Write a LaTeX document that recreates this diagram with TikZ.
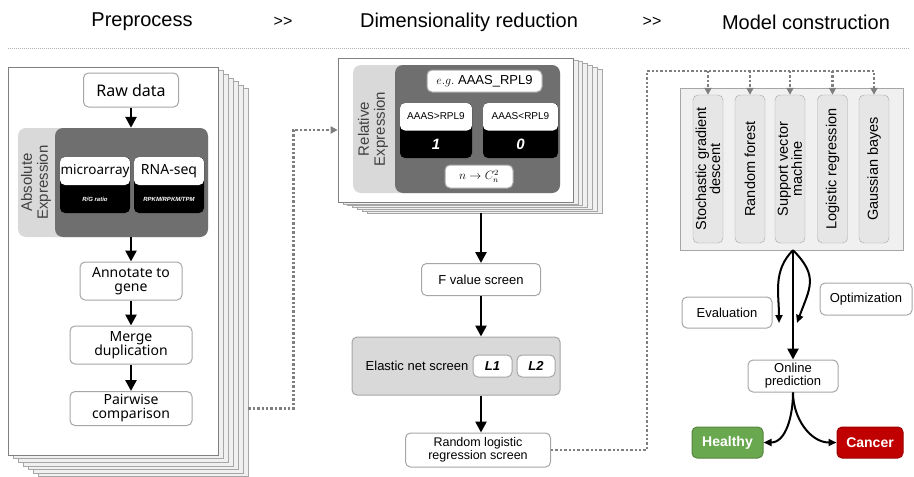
\documentclass[tikz,border=0pt]{standalone}
\usepackage{fontspec}
\setmainfont{Liberation Sans}
\newfontfamily\notofont{Noto Sans}
\usetikzlibrary{arrows.meta}
\definecolor{tabgray}{HTML}{D9D9D9}
\definecolor{blockgray}{HTML}{6F6F6F}
\definecolor{linegray}{HTML}{A6A6A6}
\definecolor{dotgray}{HTML}{7F7F7F}
\definecolor{panelgray}{HTML}{F0F0F0}
\definecolor{colgray}{HTML}{E6E6E6}
\definecolor{healthygreen}{HTML}{6AA84F}
\definecolor{cancerred}{HTML}{C00000}
\newcommand{\fs}[1]{\fontsize{#1}{#1}\selectfont}
\begin{document}
\begin{tikzpicture}[x=1pt,y=1pt,
  box/.style={draw=linegray,line width=1pt,fill=white,rounded corners=5pt,align=center,inner sep=0pt},
  tab/.style={fill=tabgray,rounded corners=8pt,inner sep=0pt},
  block/.style={fill=blockgray,rounded corners=8pt,inner sep=0pt},
  page/.style={draw=gray,line width=0.6pt,fill=white,inner sep=0pt},
  backpage/.style={draw=gray!70,line width=0.6pt,fill=gray!12,inner sep=0pt},
  duo/.style={fill=black,rounded corners=5pt,inner sep=0pt,
    path picture={\fill[white] (path picture bounding box.north west) rectangle (path picture bounding box.east);}},
  model/.style={draw=linegray,fill=colgray,rounded corners=5pt,rotate=90,minimum width=148pt,minimum height=30pt,
    align=center,font=\fontsize{14.5}{14}\selectfont,inner sep=0pt},
  arr/.style={-{Triangle[length=11pt,width=11pt]},line width=2.6pt},
  thin arr/.style={-{Triangle[length=8pt,width=7pt]},line width=2pt},
  flow/.style={-{Triangle[length=7pt,width=7pt]},draw=dotgray,line width=2.6pt,dash pattern=on 2.4pt off 2pt},
  ]
\useasboundingbox (0,0) rectangle (914,-477);

% headings
\node[font=\fs{20}] (pre) at (142,-22) {Preprocess};
\node[font=\fs{16}] (sep1) at (283,-22) {{>}{>}};
\node[font=\fs{20}] (dim) at (469,-22) {Dimensionality reduction};
\node[font=\fs{16}] (sep2) at (652,-22) {{>}{>}};
\node[font=\fs{20}] (mod) at (806,-22) {Model construction};
\draw[gray!60,line width=1pt,dash pattern=on 1pt off 1pt] (8,-48) -- (910,-48);

% preprocess stack
\foreach \i in {6,...,1}
  \node[backpage,minimum width=210pt,minimum height=388pt] (lp\i) at (113+5*\i,-261-3.6*\i) {};
\node[page,minimum width=210pt,minimum height=388pt] (lp0) at (113,-261) {};

\node[box,minimum width=95pt,minimum height=34pt,font=\notofont\fs{16}] (raw) at (131,-90) {Raw data};
\node[tab,minimum width=190pt,minimum height=109pt] (abstab) at (113,-182.5) {};
\node[block,minimum width=153pt,minimum height=109pt] (absblk) at (131.5,-182.5) {};
\node[rotate=90,align=center,text=black!75,font=\fs{15}] (abslbl) at (36,-182.5) {Absolute\\[1pt]Expression};
\node[duo,minimum width=70pt,minimum height=56pt] (micro) at (95,-185) {};
\node[font=\notofont\fs{13.5}] (microtxt) at ([yshift=-14pt]micro.north) {microarray};
\node[text=white,font=\fs{6}\bfseries\itshape] (microsub) at ([yshift=14pt]micro.south) {R/G ratio};
\node[duo,minimum width=70pt,minimum height=56pt] (rna) at (169,-185) {};
\node[font=\notofont\fs{14}] (rnatxt) at ([yshift=-14pt]rna.north) {RNA-seq};
\node[text=white,font=\fs{6}\bfseries\itshape] (rnasub) at ([yshift=14pt]rna.south) {RPKM/RPKM/TPM};

\node[box,minimum width=102pt,minimum height=38pt,font=\notofont\fs{14}] (annot) at (131,-281) {Annotate to\\gene};
\node[box,minimum width=122pt,minimum height=38pt,font=\notofont\fs{14}] (merge) at (131,-345) {Merge\\duplication};
\node[box,minimum width=122pt,minimum height=34pt,font=\notofont\fs{14}] (pairw) at (131,-408.5) {Pairwise\\comparison};

\draw[arr] (raw) -- (raw |- abstab.north);
\draw[arr] (annot |- abstab.south) -- (annot);
\draw[arr] (annot) -- (merge);
\draw[arr] (merge) -- (pairw);

% dimensionality reduction stack
\foreach \i in {6,...,1}
  \node[backpage,minimum width=235pt,minimum height=144pt] (mp\i) at (455.5+4.8*\i,-130-1.8*\i) {};
\node[page,minimum width=235pt,minimum height=144pt] (mp0) at (455.5,-130) {};

\node[tab,minimum width=207pt,minimum height=128pt] (reltab) at (456.5,-129) {};
\node[block,minimum width=165pt,minimum height=128pt] (relblk) at (477.5,-129) {};
\node[rotate=90,align=center,text=black!75,font=\fs{15}] (rellbl) at (373,-129) {Relative\\[1pt]Expression};
\node[box,minimum width=115pt,minimum height=22pt,font=\fs{13}] (eg) at (484.5,-81) {$e.g.$ AAAS\_RPL9};
\node[duo,minimum width=72pt,minimum height=55pt] (gt) at (436,-130.5) {};
\node[font=\fs{10}] (gttxt) at ([yshift=-13.5pt]gt.north) {AAAS>RPL9};
\node[text=white,font=\fs{15}\bfseries\itshape] (gtval) at ([yshift=14pt]gt.south) {1};
\node[duo,minimum width=75pt,minimum height=55pt] (lt) at (520.5,-130.5) {};
\node[font=\fs{10}] (lttxt) at ([yshift=-13.5pt]lt.north) {AAAS<RPL9};
\node[text=white,font=\fs{15}\bfseries\itshape] (ltval) at ([yshift=14pt]lt.south) {0};
\node[box,minimum width=68pt,minimum height=23pt,font=\fs{12}] (pairs) at (479,-176.5) {$n\to C_n^2$};

\node[box,minimum width=119pt,minimum height=32pt,font=\fs{13}] (fval) at (481,-279.5) {F value screen};
\node[box,fill=tabgray,minimum width=208pt,minimum height=58pt] (elastic) at (456,-366) {};
\node[font=\fs{13}] (eltxt) at (417,-366) {Elastic net screen};
\node[box,minimum width=39pt,minimum height=22pt,font=\fs{13}\bfseries\itshape] (lone) at (492.5,-366) {L1};
\node[box,minimum width=38pt,minimum height=22pt,font=\fs{13}\bfseries\itshape] (ltwo) at (536,-366) {L2};
\node[box,minimum width=145pt,minimum height=34pt,font=\fs{12.5}] (rlr) at (478,-450) {Random logistic\\regression screen};

\draw[arr] (fval |- mp6.south) -- (fval);
\draw[arr] (fval) -- (fval |- elastic.north);
\draw[arr] (fval |- elastic.south) -- (fval |- rlr.north);

\draw[flow] (pairw.east -| lp6.east) -- ++(45,0) |- (mp0.west);

% model construction
\node[draw=linegray,fill=panelgray,minimum width=223pt,minimum height=162pt,inner sep=0pt] (panel) at (791.5,-169) {};
\node[model] (m1) at (708,-169) {Stochastic gradient\\descent};
\node[model] (m2) at (750,-169) {Random forest};
\node[model] (m3) at (790,-169) {Support vector\\machine};
\node[model] (m4) at (832.5,-169) {Logistic regression};
\node[model] (m5) at (874,-169) {Gaussian bayes};

\coordinate (fork) at (647,-71);
\draw[flow] (rlr.east) -| (fork) -| (m5.east);
\foreach \i in {1,...,4}
  \draw[flow] (fork -| m\i.east) -- (m\i.east);

\node[box,minimum width=90pt,minimum height=31pt,font=\fs{13}] (eval) at (727,-312.5) {Evaluation};
\node[box,minimum width=92pt,minimum height=32pt,font=\fs{13}] (optim) at (866,-299) {Optimization};
\node[box,minimum width=90pt,minimum height=32pt,font=\fs{13}] (pred) at (793,-376) {Online\\prediction};
\node[box,draw=healthygreen!80!black,fill=healthygreen,text=white,minimum width=71pt,minimum height=31pt,font=\fs{14}\bfseries] (healthy) at (727.5,-442.5) {Healthy};
\node[box,draw=cancerred!80!black,fill=cancerred,text=white,minimum width=66pt,minimum height=31pt,font=\fs{14}\bfseries] (cancer) at (870,-442.5) {Cancer};

\coordinate (split) at (panel.south -| pred);
\coordinate (evalend) at (779,-323);
\coordinate (optend) at (797,-323);
\draw[arr] (split) -- (pred);
\draw[thin arr] (split) to[out=-135,in=90] (evalend);
\draw[thin arr] (split) to[out=-45,in=70,looseness=1.3] (optend);
\draw[thin arr] (pred.south) to[out=-90,in=0] (healthy.east);
\draw[thin arr] (pred.south) to[out=-90,in=180] (cancer.west);
\end{tikzpicture}
\end{document}
